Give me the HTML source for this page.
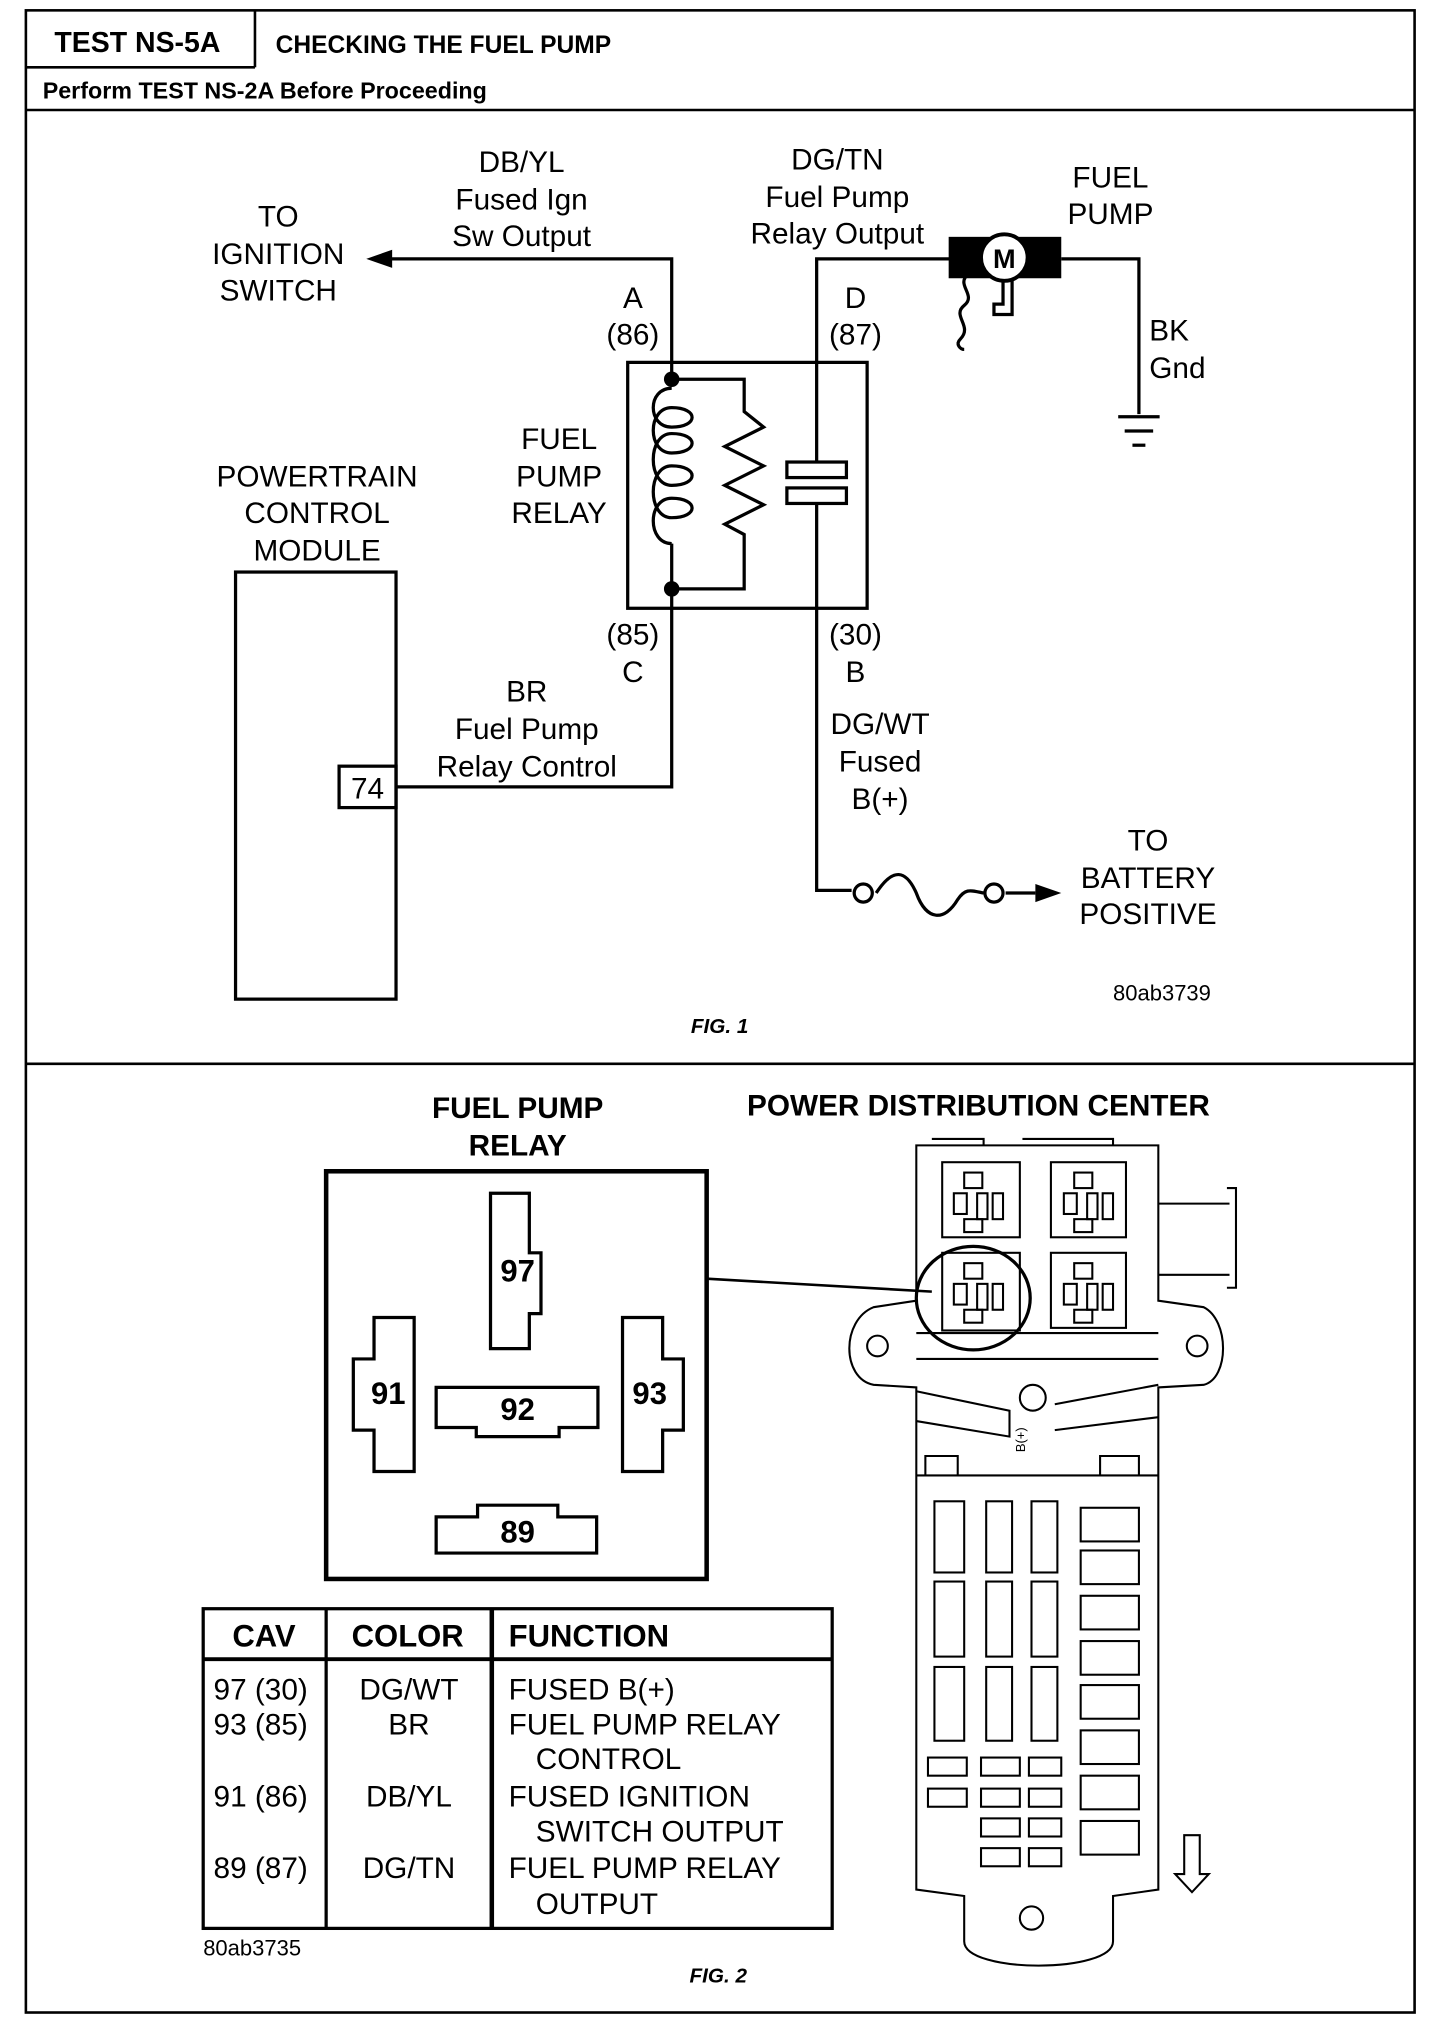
<!DOCTYPE html>
<html><head><meta charset="utf-8"><style>
html,body{margin:0;padding:0;background:#fff}
svg{display:block}
text{font-family:"Liberation Sans",Arial,sans-serif;fill:#000}
.b{font-weight:bold}
</style></head><body>
<svg width="1456" height="2034" viewBox="0 0 1125 1571.6" xmlns="http://www.w3.org/2000/svg">
<g fill="none" stroke="#000" stroke-width="2">
<rect x="20" y="8" width="1073" height="1547"/>
<line x1="20" y1="52" x2="197" y2="52"/>
<line x1="197" y1="8" x2="197" y2="52"/>
<line x1="20" y1="85" x2="1093" y2="85"/>
<line x1="20" y1="822" x2="1093" y2="822"/>
</g>
<text x="42" y="40" class="b" font-size="22">TEST NS-5A</text>
<text x="213" y="41" class="b" font-size="19">CHECKING THE FUEL PUMP</text>
<text x="33" y="76" class="b" font-size="18">Perform TEST NS-2A Before Proceeding</text>

<!-- FIG 1 -->
<g font-size="23" text-anchor="middle">
<text x="403" y="133">DB/YL</text><text x="403" y="162">Fused Ign</text><text x="403" y="190">Sw Output</text>
<text x="215" y="175">TO</text><text x="215" y="204">IGNITION</text><text x="215" y="232">SWITCH</text>
<text x="647" y="131">DG/TN</text><text x="647" y="160">Fuel Pump</text><text x="647" y="188">Relay Output</text>
<text x="858" y="145">FUEL</text><text x="858" y="173">PUMP</text>
<text x="489" y="238">A</text><text x="489" y="266">(86)</text>
<text x="661" y="238">D</text><text x="661" y="266">(87)</text>
<text x="489" y="498">(85)</text><text x="489" y="527">C</text>
<text x="661" y="498">(30)</text><text x="661" y="527">B</text>
<text x="432" y="347">FUEL</text><text x="432" y="376">PUMP</text><text x="432" y="404">RELAY</text>
<text x="245" y="376">POWERTRAIN</text><text x="245" y="404">CONTROL</text><text x="245" y="433">MODULE</text>
<text x="407" y="542">BR</text><text x="407" y="571">Fuel Pump</text><text x="407" y="600">Relay Control</text>
<text x="680" y="567">DG/WT</text><text x="680" y="596">Fused</text><text x="680" y="625">B(+)</text>
<text x="887" y="657">TO</text><text x="887" y="686">BATTERY</text><text x="887" y="714">POSITIVE</text>
<text x="284" y="617">74</text>
</g>
<text x="888" y="263" font-size="23">BK</text><text x="888" y="292" font-size="23">Gnd</text>
<text x="860" y="773" font-size="17">80ab3739</text>
<text x="556" y="798" font-size="16" class="b" font-style="italic" text-anchor="middle">FIG. 1</text>

<g fill="none" stroke="#000" stroke-width="2.5">
<polyline points="298,200 519,200 519,293"/>
<rect x="485" y="280" width="185" height="190"/>
<path d="M519,293 L575,293 L575,318 L590,330 L560,345 L590,360 L560,375 L590,390 L560,405 L575,413 L575,455 L519,455"/>
<path d="M519,300 C500,300 500,330 519,330 C540,330 540,315 519,315 C500,315 500,350 519,350 C540,350 540,335 519,335 C500,335 500,375 519,375 C540,375 540,360 519,360 C500,360 500,400 519,400 C540,400 540,385 519,385 C500,385 500,420 519,420 M519,420 L519,455"/>
<polyline points="735,200 631,200 631,357"/>
<rect x="608" y="357" width="46" height="12"/>
<rect x="608" y="377" width="46" height="12"/>
<polyline points="631,389 631,688 658,688"/>
<path d="M677,690 C690,670 700,672 708,690 C716,712 730,712 740,695 C746,686 750,688 760,690"/>
<line x1="777" y1="690" x2="800" y2="690"/>
<polyline points="519,455 519,608 306,608"/>
<rect x="182" y="442" width="124" height="330"/>
<rect x="262" y="592" width="44" height="32"/>
<polyline points="820,200 880,200 880,320"/>
<line x1="864" y1="322" x2="896" y2="322"/>
<line x1="869" y1="333" x2="891" y2="333"/>
<line x1="875" y1="344" x2="885" y2="344"/>
<path d="M748,212 C738,220 755,228 745,236 C735,244 752,252 742,262 C738,266 742,270 745,270"/>
<polyline points="782,212 782,243 768,243 768,235 775,235 775,212"/>
</g>
<circle cx="519" cy="293" r="6"/><circle cx="519" cy="455" r="6"/>
<circle cx="667" cy="690" r="7" fill="#fff" stroke="#000" stroke-width="2.5"/>
<circle cx="768" cy="690" r="7" fill="#fff" stroke="#000" stroke-width="2.5"/>
<polygon points="283,200 303,193 303,207"/>
<polygon points="820,690 800,683 800,697"/>
<rect x="733" y="183" width="87" height="32"/>
<circle cx="776" cy="199" r="18" fill="#fff" stroke="#000" stroke-width="3"/>
<text x="776" y="207" font-size="21" class="b" text-anchor="middle">M</text>

<!-- FIG 2 -->
<g font-size="23" class="b" text-anchor="middle">
<text x="400" y="864">FUEL PUMP</text><text x="400" y="893">RELAY</text>
<text x="756" y="862">POWER DISTRIBUTION CENTER</text>
</g>
<g fill="none" stroke="#000" stroke-width="2.5">
<rect x="252" y="905" width="294" height="315" stroke-width="3.5"/>
<polygon points="379,922 409,922 409,968 418,968 418,1015 409,1015 409,1042 379,1042"/>
<polygon points="289,1018 320,1018 320,1137 289,1137 289,1105 273,1105 273,1050 289,1050"/>
<polygon points="481,1018 512,1018 512,1050 528,1050 528,1105 512,1105 512,1137 481,1137"/>
<polygon points="337,1072 462,1072 462,1103 432,1103 432,1110 368,1110 368,1103 337,1103"/>
<polygon points="337,1172 369,1172 369,1163 431,1163 431,1172 461,1172 461,1200 337,1200"/>
<line x1="546" y1="988" x2="720" y2="998" stroke-width="2"/>
<rect x="157" y="1243" width="486" height="247"/>
<line x1="157" y1="1282" x2="643" y2="1282" stroke-width="3"/>
<line x1="252" y1="1243" x2="252" y2="1490"/>
<line x1="380" y1="1243" x2="380" y2="1490" stroke-width="3.5"/>
</g>
<g font-size="24" class="b" text-anchor="middle">
<text x="400" y="990">97</text><text x="300" y="1085">91</text><text x="502" y="1085">93</text>
<text x="400" y="1097">92</text><text x="400" y="1192">89</text>
<text x="204" y="1272">CAV</text><text x="315" y="1272">COLOR</text>
</g>
<text x="393" y="1272" font-size="24" class="b">FUNCTION</text>
<g font-size="23">
<text x="165" y="1313">97 (30)</text><text x="165" y="1340">93 (85)</text><text x="165" y="1396">91 (86)</text><text x="165" y="1451">89 (87)</text>
<text x="316" y="1313" text-anchor="middle">DG/WT</text><text x="316" y="1340" text-anchor="middle">BR</text><text x="316" y="1396" text-anchor="middle">DB/YL</text><text x="316" y="1451" text-anchor="middle">DG/TN</text>
<text x="393" y="1313">FUSED B(+)</text><text x="393" y="1340">FUEL PUMP RELAY</text><text x="414" y="1367">CONTROL</text>
<text x="393" y="1396">FUSED IGNITION</text><text x="414" y="1423">SWITCH OUTPUT</text>
<text x="393" y="1451">FUEL PUMP RELAY</text><text x="414" y="1479">OUTPUT</text>
</g>
<text x="157" y="1511" font-size="17">80ab3735</text>
<text x="555" y="1532" font-size="16" class="b" font-style="italic" text-anchor="middle">FIG. 2</text>

<!-- PDC -->
<g fill="none" stroke="#000" stroke-width="1.6">
<path d="M708,885 L895,885 L895,1005 L930,1010 C950,1020 950,1065 930,1070 L895,1072 L895,1460 L860,1465 L860,1500 C860,1525 745,1525 745,1500 L745,1465 L708,1460 L708,1072 L675,1070 C650,1065 650,1020 675,1010 L708,1005 Z"/>
<circle cx="678" cy="1040" r="8"/><circle cx="925" cy="1040" r="8"/>
<circle cx="797" cy="1482" r="9"/>
<line x1="708" y1="1030" x2="895" y2="1030"/>
<line x1="708" y1="1140" x2="895" y2="1140"/>
<line x1="708" y1="1050" x2="895" y2="1050"/>
<path d="M708,1075 L780,1090 L780,1110 L708,1098 M815,1085 L895,1070 M815,1105 L895,1095"/>
<circle cx="798" cy="1080" r="10"/>
<path d="M715,1140 L715,1125 L740,1125 L740,1140 M850,1140 L850,1125 L880,1125 L880,1140"/>
<path d="M720,880 L760,880 L760,885 M790,880 L860,880 L860,885"/>
<path d="M948,918 L955,918 L955,995 L948,995 M895,930 L950,930 M895,985 L950,985"/>
<rect x="728" y="898" width="60" height="58"/><rect x="812" y="898" width="58" height="58"/>
<rect x="728" y="968" width="60" height="60"/><rect x="812" y="968" width="58" height="58"/>
<rect x="745" y="906" width="14" height="12"/><rect x="737" y="922" width="10" height="16"/><rect x="755" y="922" width="8" height="20"/><rect x="767" y="922" width="8" height="20"/><rect x="745" y="942" width="14" height="10"/>
<rect x="830" y="906" width="14" height="12"/><rect x="822" y="922" width="10" height="16"/><rect x="840" y="922" width="8" height="20"/><rect x="852" y="922" width="8" height="20"/><rect x="830" y="942" width="14" height="10"/>
<rect x="745" y="976" width="14" height="12"/><rect x="737" y="992" width="10" height="16"/><rect x="755" y="992" width="8" height="20"/><rect x="767" y="992" width="8" height="20"/><rect x="745" y="1012" width="14" height="10"/>
<rect x="830" y="976" width="14" height="12"/><rect x="822" y="992" width="10" height="16"/><rect x="840" y="992" width="8" height="20"/><rect x="852" y="992" width="8" height="20"/><rect x="830" y="1012" width="14" height="10"/>
<ellipse cx="752" cy="1003" rx="44" ry="40" stroke-width="2.5"/>
<rect x="722" y="1160" width="23" height="55"/><rect x="762" y="1160" width="20" height="55"/><rect x="797" y="1160" width="20" height="55"/>
<rect x="722" y="1222" width="23" height="58"/><rect x="762" y="1222" width="20" height="58"/><rect x="797" y="1222" width="20" height="58"/>
<rect x="722" y="1288" width="23" height="57"/><rect x="762" y="1288" width="20" height="57"/><rect x="797" y="1288" width="20" height="57"/>
<rect x="835" y="1165" width="45" height="26"/><rect x="835" y="1198" width="45" height="26"/>
<rect x="835" y="1233" width="45" height="26"/><rect x="835" y="1268" width="45" height="26"/>
<rect x="835" y="1302" width="45" height="26"/><rect x="835" y="1337" width="45" height="26"/>
<rect x="835" y="1372" width="45" height="26"/><rect x="835" y="1407" width="45" height="26"/>
<rect x="717" y="1358" width="30" height="14"/><rect x="758" y="1358" width="30" height="14"/><rect x="795" y="1358" width="25" height="14"/>
<rect x="717" y="1382" width="30" height="14"/><rect x="758" y="1382" width="30" height="14"/><rect x="795" y="1382" width="25" height="14"/>
<rect x="758" y="1405" width="30" height="14"/><rect x="795" y="1405" width="25" height="14"/>
<rect x="758" y="1428" width="30" height="14"/><rect x="795" y="1428" width="25" height="14"/>
<path d="M915,1418 L927,1418 L927,1448 L934,1448 L921,1462 L908,1448 L915,1448 Z"/>
</g>
<text x="792" y="1122" font-size="10" transform="rotate(-90 792 1122)">B(+)</text>
</svg>
</body></html>
